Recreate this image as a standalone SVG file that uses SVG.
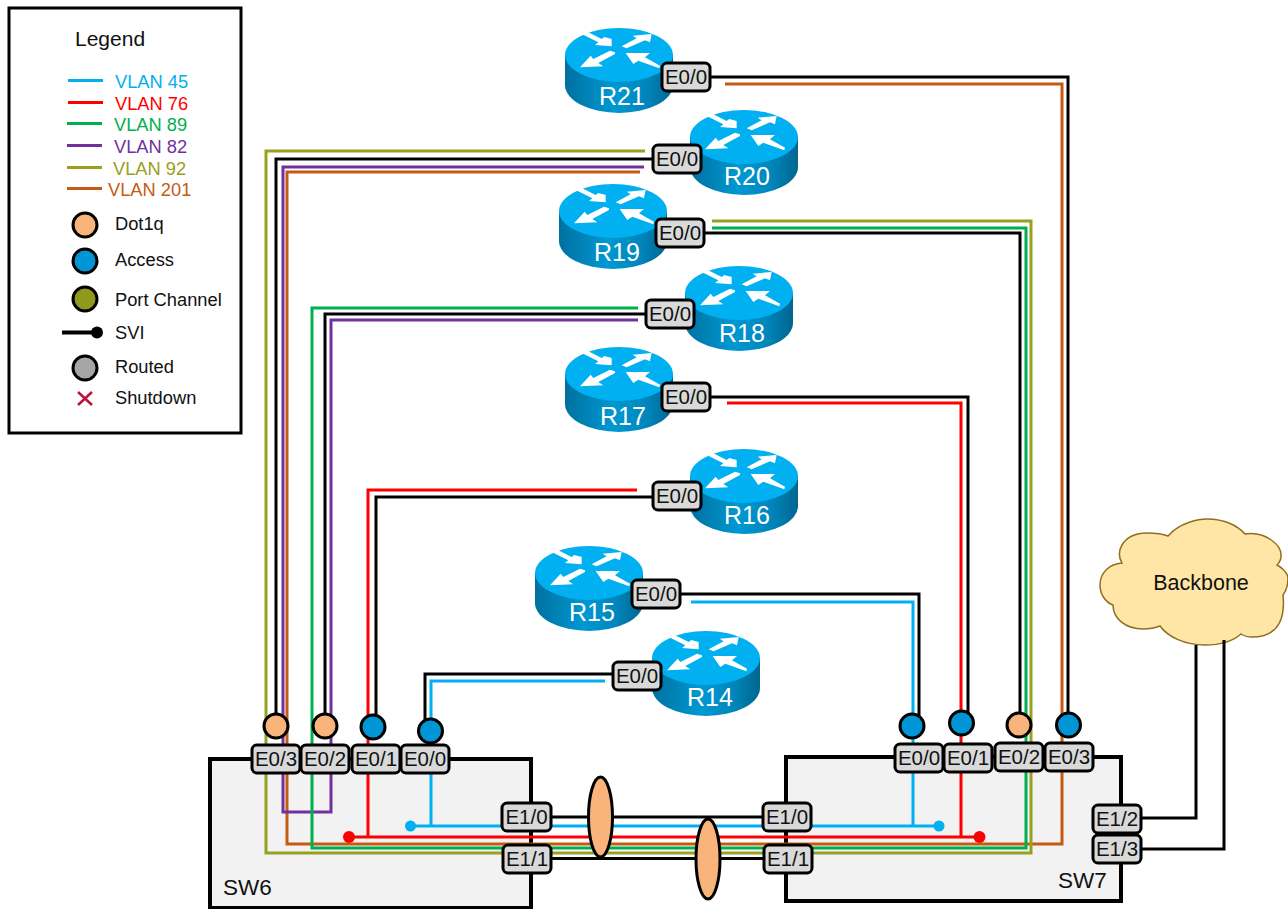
<svg xmlns="http://www.w3.org/2000/svg" width="1288" height="909" viewBox="0 0 1288 909">
<style>
text{font-family:"Liberation Sans",Arial,sans-serif;fill:#111}
.b{fill:#d9d9d9;stroke:#000;stroke-width:3}
.bt{font-size:20.500px;text-anchor:middle}
.l{fill:none;stroke-width:3;stroke-linejoin:miter}
.k{stroke:#000}.c45{stroke:#00b0f0}.c76{stroke:#ff0000}.c89{stroke:#00b050}.c82{stroke:#7030a0}.c92{stroke:#98a020}.c201{stroke:#c55a11}
.o{fill:#f8b47a;stroke:#000;stroke-width:3}
.a{fill:#0096d6;stroke:#000;stroke-width:3}
.sw{fill:#f2f2f2;stroke:#000;stroke-width:4}
.rl{font-size:25px;fill:#fff;text-anchor:middle}
.lg{font-size:18.300px}
</style>
<defs>
<linearGradient id="side" x1="0" x2="1" y1="0" y2="0">
<stop offset="0" stop-color="#00709f"/><stop offset="0.45" stop-color="#0098d2"/><stop offset="0.75" stop-color="#0086bc"/><stop offset="1" stop-color="#00668f"/>
</linearGradient>
<g id="router">
<path d="M0 27V57A54 28 0 0 0 108 57V27Z" fill="url(#side)"/>
<ellipse cx="54" cy="27" rx="54" ry="27" fill="#00b0f0"/>
<g transform="scale(0.3333) translate(-45,-38)" fill="#fff">
<polygon points="95,56 115,51 155,71 163,65 185,71 185,93 135,89 145,81"/>
<polygon points="215,93 260,69 248,61 305,56 300,81 285,75 230,99"/>
<polygon points="195,111 180,106 130,131 122,121 90,156 160,153 145,143 195,116"/>
<polygon points="227,113 300,113 285,126 330,151 328,159 265,136 250,146"/>
</g>
</g>
</defs>

<g id="legend">
<rect x="9" y="8" width="232" height="425" fill="#fff" stroke="#000" stroke-width="3"/>
<text x="75" y="46" font-size="21">Legend</text>
<path class="l c45" d="M68 80.500H103"/><text class="lg" x="115" y="88" style="fill:#00b0f0">VLAN 45</text>
<path class="l c76" d="M68 102.500H103"/><text class="lg" x="115" y="110" style="fill:#ff0000">VLAN 76</text>
<path class="l c89" d="M67 123.500H102"/><text class="lg" x="114" y="131" style="fill:#00b050">VLAN 89</text>
<path class="l c82" d="M67 145.500H102"/><text class="lg" x="114" y="153" style="fill:#7030a0">VLAN 82</text>
<path class="l c92" d="M67 167.500H102"/><text class="lg" x="113" y="175" style="fill:#98a020">VLAN 92</text>
<path class="l c201" d="M67 188.500H102"/><text class="lg" x="108" y="196" style="fill:#c55a11">VLAN 201</text>
<circle cx="85" cy="225" r="12" class="o"/><text class="lg" x="115" y="230">Dot1q</text>
<circle cx="85" cy="261" r="12" class="a"/><text class="lg" x="115" y="266">Access</text>
<circle cx="85" cy="299" r="12" fill="#8f9a1d" stroke="#000" stroke-width="3"/><text class="lg" x="115" y="306">Port Channel</text>
<path d="M62 332.500H97" stroke="#000" stroke-width="4" fill="none"/><circle cx="97" cy="332.500" r="6" fill="#000"/><text class="lg" x="115" y="339">SVI</text>
<circle cx="85" cy="368" r="12" fill="#a6a6a6" stroke="#000" stroke-width="3"/><text class="lg" x="115" y="373">Routed</text>
<path d="M78 392L92 405M92 392L78 405" stroke="#c00f3c" stroke-width="2.500" fill="none"/><text class="lg" x="115" y="404">Shutdown</text>
</g>

<g id="SW6"><rect class="sw" x="210" y="759" width="321" height="149"/><text x="223" y="895" font-size="22.500">SW6</text></g>
<g id="SW7"><rect class="sw" x="786" y="757" width="335" height="144"/><text x="1058" y="888" font-size="22.500">SW7</text></g>

<g id="R21"><use href="#router" x="565" y="28"/><text class="rl" x="622" y="105">R21</text></g>
<g id="R20"><use href="#router" x="690" y="110"/><text class="rl" x="747" y="185">R20</text></g>
<g id="R19"><use href="#router" x="559" y="184"/><text class="rl" x="617" y="261">R19</text></g>
<g id="R18"><use href="#router" x="685" y="266"/><text class="rl" x="742" y="342">R18</text></g>
<g id="R17"><use href="#router" x="565" y="347"/><text class="rl" x="623" y="425">R17</text></g>
<g id="R16"><use href="#router" x="690" y="449"/><text class="rl" x="747" y="524">R16</text></g>
<g id="R15"><use href="#router" x="535" y="546"/><text class="rl" x="592" y="621">R15</text></g>
<g id="R14"><use href="#router" x="652" y="631"/><text class="rl" x="710" y="706">R14</text></g>

<g id="Backbone">
<path d="M1168 536C1180 522 1200 519 1207 519C1225 519 1238 526 1245 534C1265 531 1282 545 1281 556C1281 561 1279 563 1277 565C1283 568 1288 574 1288 578C1288 585 1286 591 1283 595C1285 615 1281 637 1252 637C1248 637 1244 636 1241 634C1232 642 1218 645 1205 645C1185 645 1168 637 1160 626C1155 628 1149 629 1143 629C1125 629 1113 618 1113 605C1105 602 1100 594 1100 585C1100 572 1110 564 1122 563C1118 556 1119 550 1122 545C1128 535 1140 533 1147 533C1155 533 1163 534 1168 536Z" fill="#ffe6a7" stroke="#8f6f1f" stroke-width="1.500"/>
<text x="1201" y="590" font-size="21.500" text-anchor="middle">Backbone</text>
</g>

<g id="connectors">
<path class="l k" d="M710 77H1068V725"/>
<path class="l c201" d="M725 84H1062V844H287V172H640"/>
<path class="l c92" d="M645 151H266V853H1031V221H712"/>
<path class="l k" d="M653 159H276V726"/>
<path class="l c82" d="M644 167H283V812H331V320H638"/>
<path class="l k" d="M704 233H1020V724"/>
<path class="l c89" d="M712 228H1026V848H312V308H638"/>
<path class="l k" d="M646 314H325V726"/>
<path class="l k" d="M710 397H968V722"/>
<path class="l c76" d="M727 403H961V837"/>
<path class="l c76" d="M637 490H368V837"/>
<path class="l k" d="M653 497H376V726"/>
<path class="l k" d="M680 594H919V726"/>
<path class="l c45" d="M691 602H913V826"/>
<path class="l k" d="M612 674H425V731"/>
<path class="l c45" d="M605 681H431V826"/>
<path class="l c45" d="M410 826H939"/>
<circle cx="410.500" cy="826" r="5.500" fill="#00b0f0"/><circle cx="939" cy="826" r="5.500" fill="#00b0f0"/>
<path class="l c76" d="M349 837H980"/>
<circle cx="349" cy="837" r="6" fill="#ff0000"/><circle cx="979.500" cy="837" r="6" fill="#ff0000"/>
<path class="l k" d="M526 817H787M527 858.500H788"/>
<path class="l k" d="M1140 818H1196V645M1140 849H1224V640"/>
</g>

<g id="lag1"><ellipse cx="600.500" cy="817" rx="12" ry="40" class="o"/></g>
<g id="lag2"><ellipse cx="708" cy="859" rx="12" ry="40" class="o"/></g>

<g id="ports">
<circle cx="276" cy="726" r="12" class="o"/><circle cx="325" cy="726" r="12" class="o"/><circle cx="373" cy="727" r="12" class="a"/><circle cx="430.500" cy="731" r="12" class="a"/>
<circle cx="912" cy="726" r="12" class="a"/><circle cx="961.500" cy="723" r="12" class="a"/><circle cx="1019" cy="725" r="12" class="o"/><circle cx="1068.500" cy="725" r="12" class="a"/>
</g>

<g id="badges">
<rect class="b" x="662" y="63" width="48" height="28" rx="5"/><text class="bt" x="686" y="84">E0/0</text>
<rect class="b" x="653" y="145" width="48" height="28" rx="5"/><text class="bt" x="677" y="166">E0/0</text>
<rect class="b" x="656" y="219" width="48" height="28" rx="5"/><text class="bt" x="680" y="240">E0/0</text>
<rect class="b" x="646" y="300" width="48" height="28" rx="5"/><text class="bt" x="670" y="321">E0/0</text>
<rect class="b" x="662" y="383" width="48" height="28" rx="5"/><text class="bt" x="686" y="404">E0/0</text>
<rect class="b" x="653" y="482" width="48" height="28" rx="5"/><text class="bt" x="677" y="503">E0/0</text>
<rect class="b" x="632" y="580" width="48" height="28" rx="5"/><text class="bt" x="656" y="601">E0/0</text>
<rect class="b" x="613" y="662" width="48" height="28" rx="5"/><text class="bt" x="637" y="683">E0/0</text>
<rect class="b" x="252" y="745" width="48" height="28" rx="5"/><text class="bt" x="276" y="766">E0/3</text>
<rect class="b" x="301" y="745" width="48" height="28" rx="5"/><text class="bt" x="325" y="766">E0/2</text>
<rect class="b" x="352" y="745" width="48" height="28" rx="5"/><text class="bt" x="376" y="766">E0/1</text>
<rect class="b" x="401" y="745" width="48" height="28" rx="5"/><text class="bt" x="425" y="766">E0/0</text>
<rect class="b" x="502" y="803" width="49" height="28" rx="5"/><text class="bt" x="526.500" y="824">E1/0</text>
<rect class="b" x="503" y="845" width="48" height="28" rx="5"/><text class="bt" x="527" y="866">E1/1</text>
<rect class="b" x="895" y="744" width="48" height="28" rx="5"/><text class="bt" x="919" y="765">E0/0</text>
<rect class="b" x="944" y="744" width="48" height="28" rx="5"/><text class="bt" x="968" y="765">E0/1</text>
<rect class="b" x="995" y="743" width="48" height="28" rx="5"/><text class="bt" x="1019" y="764">E0/2</text>
<rect class="b" x="1045" y="743" width="48" height="28" rx="5"/><text class="bt" x="1069" y="764">E0/3</text>
<rect class="b" x="763" y="803" width="48" height="28" rx="5"/><text class="bt" x="787" y="824">E1/0</text>
<rect class="b" x="764" y="845" width="48" height="28" rx="5"/><text class="bt" x="788" y="866">E1/1</text>
<rect class="b" x="1093" y="805" width="48" height="28" rx="5"/><text class="bt" x="1117" y="826">E1/2</text>
<rect class="b" x="1093" y="835" width="48" height="28" rx="5"/><text class="bt" x="1117" y="856">E1/3</text>
</g>
</svg>
